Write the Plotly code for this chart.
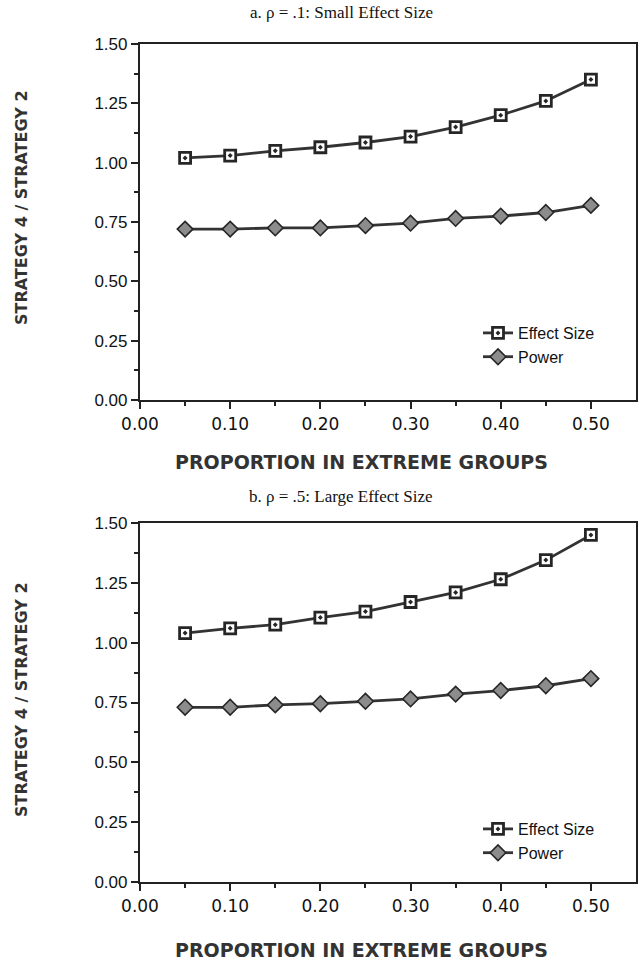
import plotly.graph_objects as go

proportion = [0.05, 0.10, 0.15, 0.20, 0.25, 0.30, 0.35, 0.40, 0.45, 0.50]
effect_a = [1.02, 1.03, 1.05, 1.065, 1.085, 1.11, 1.15, 1.20, 1.26, 1.35]
power_a = [0.72, 0.72, 0.725, 0.725, 0.735, 0.745, 0.765, 0.775, 0.79, 0.82]
effect_b = [1.04, 1.06, 1.075, 1.105, 1.13, 1.17, 1.21, 1.265, 1.345, 1.45]
power_b = [0.73, 0.73, 0.74, 0.745, 0.755, 0.765, 0.785, 0.80, 0.82, 0.85]
titles = ["a. \u03c1 = .1: Small Effect Size", "b. \u03c1 = .5: Large Effect Size"]
x_title = "PROPORTION IN EXTREME GROUPS"
y_title = "STRATEGY 4 / STRATEGY 2"
x_ticks = [0, 0.1, 0.2, 0.3, 0.4, 0.5]
x_ticklabels = ["0.00", "0.10", "0.20", "0.30", "0.40", "0.50"]
y_ticks = [0, 0.25, 0.5, 0.75, 1.0, 1.25, 1.5]
y_ticklabels = ["0.00", "0.25", "0.50", "0.75", "1.00", "1.25", "1.50"]

W, H = 640, 966
def px(x):
    return x / W
def py(y):
    return 1 - y / H

fig = go.Figure()

panels = [
    dict(eff=effect_a, pw=power_a, xa="x", ya="y", leg="legend", title=titles[0]),
    dict(eff=effect_b, pw=power_b, xa="x2", ya="y2", leg="legend2", title=titles[1]),
]

line_col = "#333333"
for p in panels:
    fig.add_trace(go.Scatter(
        x=proportion, y=p["eff"], name="Effect Size", mode="lines+markers",
        xaxis=p["xa"], yaxis=p["ya"], legend=p["leg"],
        line=dict(color=line_col, width=2.8),
        marker=dict(symbol="square-dot", size=11, color="#ffffff",
                    line=dict(color="#262626", width=2.8)),
    ))
    fig.add_trace(go.Scatter(
        x=proportion, y=p["pw"], name="Power", mode="lines+markers",
        xaxis=p["xa"], yaxis=p["ya"], legend=p["leg"],
        line=dict(color=line_col, width=2.8),
        marker=dict(symbol="diamond", size=12, color="#8c8c8c",
                    line=dict(color="#262626", width=1.6)),
    ))

axis_common_x = dict(
    range=[0, 0.55], tickvals=x_ticks, ticktext=x_ticklabels, automargin=False,
    ticks="outside", ticklen=7, tickwidth=2, tickcolor="#222",
    showline=True, linecolor="#222", linewidth=2.2, mirror=True,
    showgrid=False, zeroline=False,
    tickfont=dict(family="DejaVu Sans", size=17, color="#111"),
    minor=dict(tickvals=[0.05, 0.15, 0.25, 0.35, 0.45], ticks="outside",
               ticklen=4, tickwidth=1.5, tickcolor="#222"),
)
axis_common_y = dict(
    range=[0, 1.5], tickvals=y_ticks, ticktext=y_ticklabels, automargin=False,
    ticks="outside", ticklen=7, tickwidth=2, tickcolor="#222",
    showline=True, linecolor="#222", linewidth=2.2, mirror=True,
    showgrid=False, zeroline=False,
    tickfont=dict(family="Liberation Sans", size=17, color="#111"),
    minor=dict(tickvals=[0.125, 0.375, 0.625, 0.875, 1.125, 1.375], ticks="outside",
               ticklen=4, tickwidth=1.5, tickcolor="#222"),
)

legend_style = dict(xanchor="left", yanchor="top", bgcolor="rgba(0,0,0,0)",
                    font=dict(family="Liberation Sans", size=16, color="#111"),
                    itemwidth=30, tracegroupgap=2)

fig.update_layout(
    width=W, height=H,
    margin=dict(l=0, r=0, t=0, b=0),
    paper_bgcolor="white", plot_bgcolor="white",
    xaxis=dict(domain=[px(140), px(636)], anchor="y", **axis_common_x),
    yaxis=dict(domain=[py(400), py(44)], anchor="x", **axis_common_y),
    xaxis2=dict(domain=[px(140), px(636)], anchor="y2", **axis_common_x),
    yaxis2=dict(domain=[py(882), py(523)], anchor="x2", **axis_common_y),
    legend=dict(x=px(478), y=py(316), **legend_style),
    legend2=dict(x=px(478), y=py(812), **legend_style),
    showlegend=True,
)

ann = []
title_y = [12, 497]
xt_y = [462, 950]
yt_c = [208, 700]
for i, p in enumerate(panels):
    ann.append(dict(text=p["title"], x=px(341), y=py(title_y[i]), xref="paper", yref="paper",
                    xanchor="center", yanchor="middle", showarrow=False,
                    font=dict(family="Liberation Serif", size=17, color="#111")))
    ann.append(dict(text="<b>" + x_title + "</b>", x=px(361), y=py(xt_y[i]), xref="paper", yref="paper",
                    xanchor="center", yanchor="middle", showarrow=False,
                    font=dict(family="DejaVu Sans", size=19, color="#333")))
    ann.append(dict(text="<b>" + y_title + "</b>", x=px(21), y=py(yt_c[i]), xref="paper", yref="paper",
                    xanchor="center", yanchor="middle", showarrow=False, textangle=-90,
                    font=dict(family="DejaVu Sans", size=16, color="#333")))
fig.update_layout(annotations=ann)

fig.write_html("out.html", config={"displayModeBar": False},
               post_script="document.body.style.margin='0px';")
